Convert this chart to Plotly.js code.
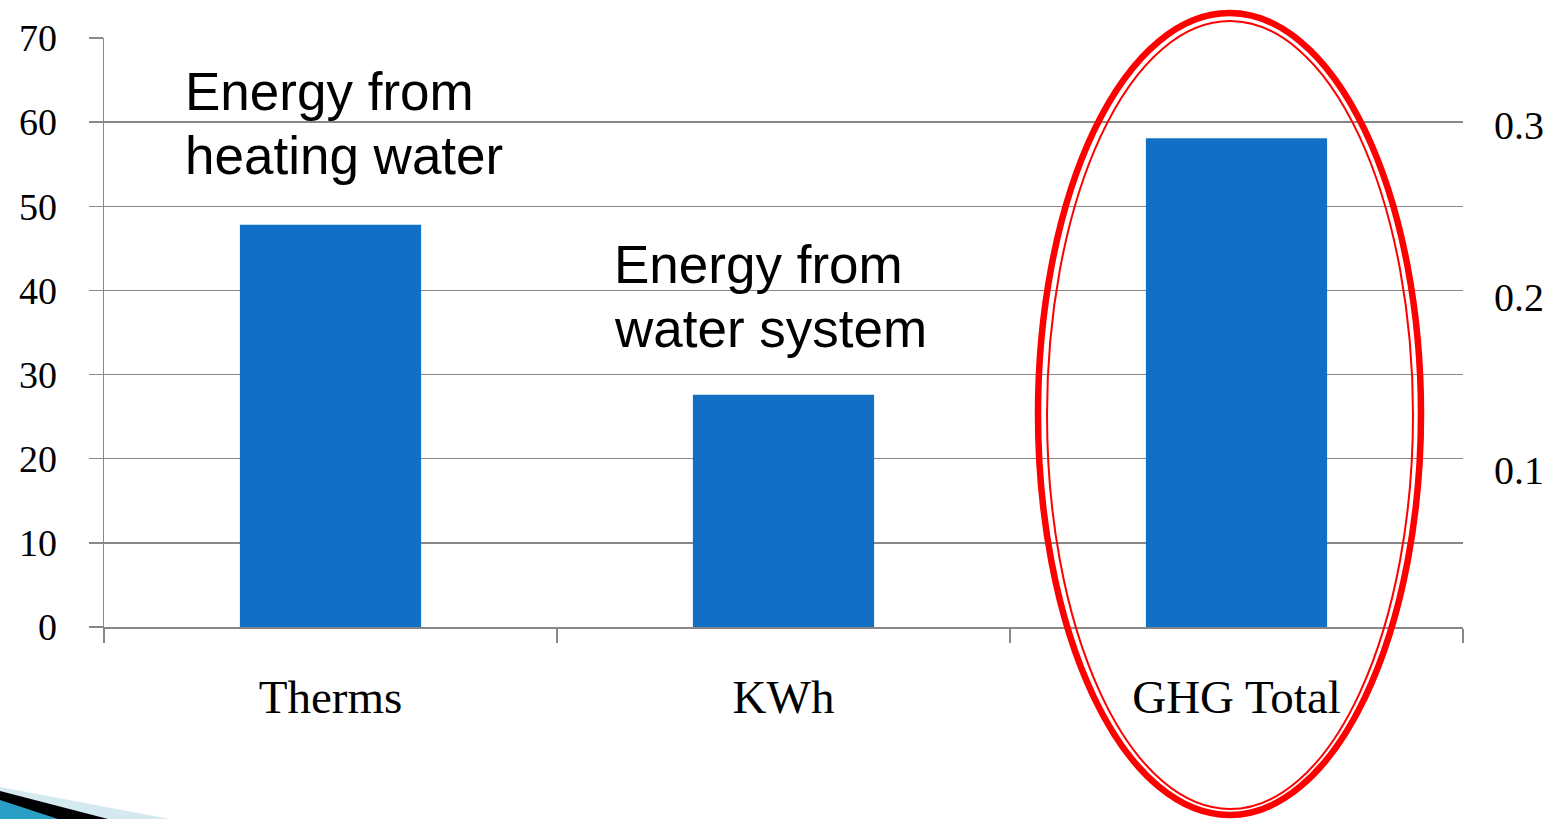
<!DOCTYPE html>
<html>
<head>
<meta charset="utf-8">
<script src="https://cdn.plot.ly/plotly-3.0.1.min.js"></script>
<style>html,body{margin:0;padding:0;background:#fff;}#chart{width:1566px;height:819px;}</style>
</head>
<body>
<div id="chart"></div>
<script>
// ---- data ----
const categories = ["Therms", "KWh", "GHG Total"];
const values = [47.8, 27.6, 58.1];
const leftTicks = [0, 10, 20, 30, 40, 50, 60, 70];
const rightTicks = [0.1, 0.2, 0.3];
const note1Lines = ["Energy from", "heating water"];
const note2Lines = ["Energy from", "water system"];

// ---- layout helpers ----
const W = 1566, H = 819;
const M = {l: 104, r: 103, t: 38, b: 192};
const PW = W - M.l - M.r, PH = H - M.t - M.b;
const px = x => (x - M.l) / PW;
const py = y => (H - M.b - y) / PH;

const grid = '#878787';
const serif = 'Liberation Serif, DejaVu Serif, serif';
const sans = 'Liberation Sans, Arial, sans-serif';

const traces = [
  {
    type: 'bar', x: categories, y: values,
    marker: {color: '#1170c5'}, hoverinfo: 'x+y', showlegend: false
  },
  {
    type: 'scatter', x: categories, y: categories.map(() => null),
    yaxis: 'y2', mode: 'markers', hoverinfo: 'skip', showlegend: false
  }
];

function noteAnns(lines, xPix, yPix0, lineH) {
  return lines.map((t, i) => ({
    text: t, xref: 'paper', yref: 'paper',
    x: px(xPix), y: py(yPix0 + i * lineH),
    xanchor: 'left', yanchor: 'middle', showarrow: false,
    font: {family: sans, size: 53, color: '#000'}
  }));
}

function ellipse(x0, y0, x1, y1, w) {
  return {type: 'circle', xref: 'paper', yref: 'paper',
    x0: px(x0), x1: px(x1), y0: py(y1), y1: py(y0),
    line: {color: '#ff0000', width: w}, fillcolor: 'rgba(0,0,0,0)', layer: 'above'};
}
function poly(pts, color) {
  const d = 'M ' + pts.map(p => px(p[0]) + ' ' + py(p[1])).join(' L ') + ' Z';
  return {type: 'path', xref: 'paper', yref: 'paper', path: d,
    fillcolor: color, line: {width: 0}, layer: 'above'};
}

const layout = {
  width: W, height: H,
  margin: M,
  paper_bgcolor: '#fff', plot_bgcolor: '#fff',
  bargap: 0.6,
  showlegend: false,
  xaxis: {
    type: 'category', tickson: 'boundaries',
    showline: true, linecolor: grid, linewidth: 1.5,
    ticks: 'outside', ticklen: 14, tickcolor: grid, tickwidth: 1.5,
    showgrid: false, ticklabelstandoff: 28,
    tickfont: {family: serif, size: 47, color: '#000'},
    fixedrange: true
  },
  yaxis: {
    range: [0, 70], tickvals: leftTicks, ticktext: leftTicks.map(String),
    showline: true, linecolor: grid, linewidth: 1.5,
    ticks: 'outside', ticklen: 14, tickcolor: grid, tickwidth: 1.5,
    showgrid: true, gridcolor: grid, gridwidth: 1.5,
    zeroline: false, ticklabelstandoff: 24,
    tickfont: {family: serif, size: 38, color: '#000'},
    fixedrange: true
  },
  yaxis2: {
    overlaying: 'y', side: 'right',
    range: [0.009, 0.3504], tickvals: rightTicks, ticktext: rightTicks.map(String),
    showline: false, showgrid: false, zeroline: false, ticks: '',
    ticklabelstandoff: 30,
    tickfont: {family: serif, size: 40, color: '#000'},
    fixedrange: true
  },
  annotations: [
    ...noteAnns(note1Lines, 183, 92, 63),
    ...noteAnns(note2Lines, 612, 264, 64)
  ],
  shapes: [
    ellipse(1038, 13, 1421, 815, 6.5),
    ellipse(1047, 21, 1413, 809, 2),
    poly([[0, 787], [170, 819], [0, 819]], '#d5e9f1'),
    poly([[0, 791], [108, 819], [0, 819]], '#000000'),
    poly([[0, 800], [58, 819], [0, 819]], '#2a9fc6')
  ]
};

Plotly.newPlot('chart', traces, layout, {displayModeBar: false, staticPlot: true});
</script>
</body>
</html>
